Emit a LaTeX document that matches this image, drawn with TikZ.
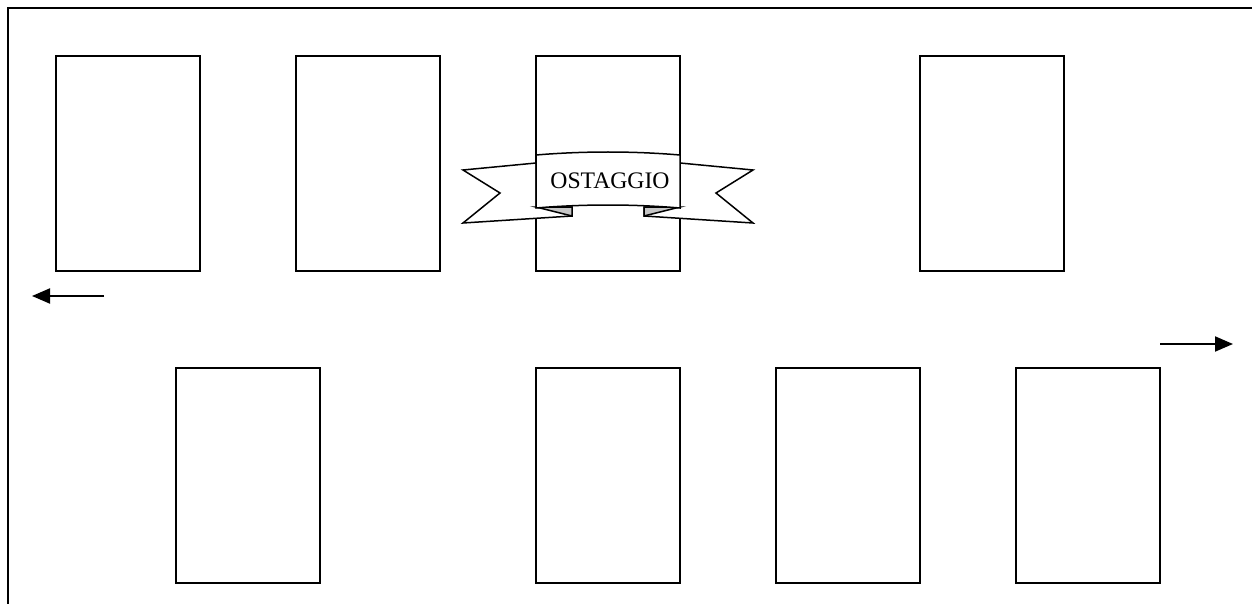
\documentclass[tikz,border=0pt]{standalone}
\usepackage{fontspec}
\setmainfont{Liberation Serif}
\usetikzlibrary{arrows.meta}

\tikzset{
  card/.style={draw, line width=1.5pt, minimum width=144pt, minimum height=215pt, inner sep=0pt},
  ribbon/.style={draw, line width=1.5pt, line join=miter, fill=white},
  move/.style={draw, line width=2pt, -{Stealth[length=18pt, width=15pt, inset=0pt]}},
}

\begin{document}
\begin{tikzpicture}[x=1pt, y=-1pt]
  \useasboundingbox (0,0) rectangle (1252,604);
  % page border, only top and left show
  \draw[line width=2pt] (8,604) -- (8,8) -- (1252,8);

  % upper row
  \node[card] (u1) at (128,163.5) {};
  \node[card] (u2) at (368,163.5) {};
  \node[card] (u3) at (608,163.5) {};
  \node[card] (u4) at (992,163.5) {};
  % lower row
  \node[card] (d1) at (248,475.5) {};
  \node[card] (d2) at (608,475.5) {};
  \node[card] (d3) at (848,475.5) {};
  \node[card] (d4) at (1088,475.5) {};

  % direction arrows
  \coordinate (la) at (104,296);
  \coordinate (lb) at (32,296);
  \coordinate (ra) at (1160,344);
  \coordinate (rb) at (1233,344);
  \draw[move] (la) -- (lb);
  \draw[move] (ra) -- (rb);

  % banner over the third card
  \draw[ribbon] (536,163) -- (463,170) -- (500,193) -- (463,223) -- (572,216) -- (572,207) -- (536,207) -- cycle;
  \draw[ribbon] (680,163) -- (753,170) -- (716,193) -- (753,223) -- (644,216) -- (644,207) -- (680,207) -- cycle;
  \draw[ribbon, fill=gray!45] (536,207) -- (572,207) -- (572,216) -- cycle;
  \draw[ribbon, fill=gray!45] (680,207) -- (644,207) -- (644,216) -- cycle;
  \draw[ribbon] (536,155) .. controls (584,151) and (632,151) .. (680,155)
    -- (680,208) .. controls (632,204) and (584,204) .. (536,208) -- cycle;
  \node[font=\fontsize{23.7}{28}\selectfont] (tag) at (610,181) {OSTAGGIO};
\end{tikzpicture}
\end{document}
